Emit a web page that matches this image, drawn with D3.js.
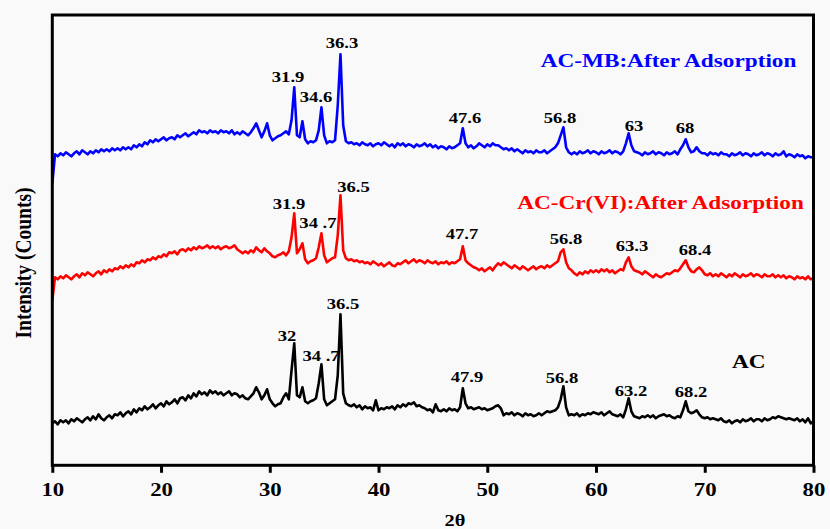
<!DOCTYPE html>
<html>
<head>
<meta charset="utf-8">
<script src="https://cdn.jsdelivr.net/npm/d3@7"></script>
<style>
  html, body { margin: 0; padding: 0; background: #f9f9f9; }
  svg { display: block; }
  text { font-family: "Liberation Serif", "Times New Roman", serif; font-weight: bold; }
</style>
</head>
<body>
<svg id="chart" width="830" height="529"></svg>
<script>
// ---------------- DATA ----------------
const xTicks = [10, 20, 30, 40, 50, 60, 70, 80];
// step-scan angles (2θ), 10° → 80° in 0.25° steps
const twoTheta = d3.range(281).map(i => 10 + i * 0.25);

// AC (black), counts, offset trace
const acCounts = [
42,44,41,45, 43,45,42,46, 44,47,45,43, 46,48,45,49, 46,51,47,45,
48,50,47,51, 50,53,49,52, 54,51,56,53, 57,55,59,56, 58,61,57,60,
62,59,64,61, 63,66,62,67, 68,65,70,67, 72,69,74,71, 73,70,75,72,
74,71,73,70, 72,74,70,72, 71,68,70,67, 66,69,72,78, 73,66,70,76,
66,62,59,61, 62,68,72,66, 95,122,70,68, 78,64,62,64, 65,67,82,101,
66,60,62,64, 66,90,151,72, 62,60,59,61, 58,60,56,59, 57,58,55,65,
55,57,56,58, 57,59,56,60, 58,61,59,62, 61,63,59,60, 58,57,55,56,
53,61,55,54, 56,54,57,55, 56,54,58,77, 62,57,58,56, 57,58,56,57,
55,56,57,59, 60,57,50,52, 51,53,50,52, 51,49,52,50, 51,49,50,52,
50,52,54,53, 54,55,58,66, 79,58,50,51, 50,52,49,51, 50,52,51,53,
52,51,53,50, 52,54,51,50, 49,51,48,56, 67,54,49,48, 47,49,48,50,
48,50,47,49, 50,51,49,50, 48,47,49,48, 55,64,54,52, 53,55,51,48,
47,48,46,47, 46,45,47,44, 43,45,42,44, 45,43,46,44, 45,47,44,46,
46,44,47,45, 46,48,47,49, 48,47,46,47, 46,45,47,44, 46,43,47,42,
44
];

// AC-Cr(VI) after adsorption (red)
const crCounts = [
165,188,186,189, 187,190,188,186, 189,191,188,192, 190,193,191,189, 192,194,191,195,
193,196,194,197, 196,199,197,200, 198,201,199,203, 202,205,203,206, 205,208,206,209,
208,211,209,213, 212,214,211,215, 216,214,217,215, 218,216,219,217, 218,220,217,219,
217,219,216,218, 219,217,218,220, 216,214,212,214, 212,215,213,218, 215,213,217,214,
212,209,208,210, 211,213,210,214, 228,252,212,216, 222,206,202,204, 205,207,218,232,
210,203,205,207, 208,230,270,215, 207,205,206,204, 205,203,204,202, 203,201,204,202,
200,202,199,201, 203,200,199,202, 201,203,205,202, 204,206,203,205, 204,202,205,203,
202,204,201,203, 202,204,201,203, 202,204,206,219, 205,202,200,198, 197,195,197,194,
196,198,195,199, 202,200,203,201, 199,197,200,198, 196,199,197,195, 197,199,196,198,
199,197,200,198, 200,202,204,213, 216,203,197,195, 192,190,193,191, 194,192,195,193,
195,193,196,194, 196,193,195,192, 194,196,195,203, 208,199,195,194, 193,191,194,192,
190,188,191,189, 188,190,192,191, 193,195,194,197, 201,205,198,194, 193,196,198,195,
191,190,192,189, 191,189,192,190, 188,191,189,192, 190,188,191,189, 190,192,189,191,
190,188,191,189, 189,191,188,190, 188,190,187,189, 188,186,189,187, 188,186,189,186,
187
];

// AC-MB after adsorption (blue)
const mbCounts = [
282,311,309,312, 310,313,311,309, 312,314,311,315, 313,311,314,312, 315,313,316,314,
316,314,317,315, 317,315,318,316, 318,316,320,318, 321,319,323,321, 325,323,326,324,
326,328,325,327, 328,326,330,328, 330,332,329,331, 333,331,335,333, 334,332,335,333,
334,332,335,333, 334,332,335,331, 333,331,334,332, 330,333,337,342, 335,328,334,342,
330,325,327,329, 330,332,334,331, 345,378,330,328, 344,326,322,324, 323,325,335,358,
330,322,324,323, 325,360,411,340, 324,322,323,321, 322,320,323,321, 320,322,319,321,
322,320,323,321, 319,321,318,322, 320,322,319,321, 320,318,321,319, 320,322,319,321,
318,320,317,319, 318,316,319,317, 318,320,322,337, 322,318,320,317, 319,322,320,318,
321,319,322,320, 320,318,316,317, 315,317,314,316, 314,312,315,313, 314,312,315,313,
313,315,312,314, 316,318,322,330, 338,318,313,311, 313,311,314,312, 313,315,312,314,
313,311,314,312, 313,315,312,314, 313,311,314,322, 332,320,314,313, 312,310,313,311,
312,314,311,313, 312,310,313,311, 312,314,311,316, 320,326,318,313, 314,318,314,312,
312,310,313,311, 312,310,313,311, 311,309,312,310, 311,313,310,312, 311,309,312,310,
311,313,310,312, 311,309,312,310, 311,314,309,311, 310,308,311,309, 310,307,309,308,
308
];

// peak annotations: label text, 2θ anchor, intensity anchor
const mbPeakText  = ["31.9", "34.6", "36.3", "47.6", "56.8", "63", "68"];
const mbPeakAt    = [31.68, 34.25, 36.64, 47.95, 56.69, 63.5, 68.19];
const mbPeakLevel = [383, 363, 417, 342, 342, 334, 332];

const crPeakText  = ["31.9", "34 .7", "36.5", "47.7", "56.8", "63.3", "68.4"];
const crPeakAt    = [31.77, 34.43, 37.7, 47.68, 57.24, 63.31, 69.11];
const crPeakLevel = [256, 237, 273, 226, 221, 214, 210];

const acPeakText  = ["32", "34 .7", "36.5", "47.9", "56.8", "63.2", "68.2"];
const acPeakAt    = [31.58, 34.71, 36.73, 48.14, 56.87, 63.22, 68.74];
const acPeakLevel = [124, 104, 156, 83, 82, 69, 68];

const seriesNames  = ["AC-MB:After Adsorption", "AC-Cr(VI):After Adsorption", "AC"];
const seriesColors = ["#0000ff", "#ff0000", "#000000"];
const nameAt       = [66.67, 65.93, 74.04];
const nameLevel    = [398, 256, 97];

// ---------------- DRAW ----------------
const svg = d3.select("#chart");
const X0 = 52.3, X1 = 813.5, Y0 = 465.3, Y1 = 15;
const x = d3.scaleLinear().domain([10, 80]).range([X0, X1]);
const y = d3.scaleLinear().domain([0, 450.3]).range([Y0, Y1]);
const STRETCH = 1.2;

const line = d3.line().x(d => x(d[0])).y(d => y(d[1]));
const series = [
  { counts: mbCounts, color: seriesColors[0], pt: mbPeakText, pa: mbPeakAt, pl: mbPeakLevel },
  { counts: crCounts, color: seriesColors[1], pt: crPeakText, pa: crPeakAt, pl: crPeakLevel },
  { counts: acCounts, color: seriesColors[2], pt: acPeakText, pa: acPeakAt, pl: acPeakLevel }
];

series.forEach(s => {
  svg.append("path")
    .datum(twoTheta.map((t, i) => [t, s.counts[i]]))
    .attr("d", line)
    .attr("fill", "none")
    .attr("stroke", s.color)
    .attr("stroke-width", 2.6)
    .attr("stroke-linejoin", "round");
});

// peak labels
series.forEach(s => {
  s.pt.forEach((t, i) => {
    svg.append("text")
      .attr("transform", `translate(${x(s.pa[i])},${y(s.pl[i])}) scale(${STRETCH},1)`)
      .attr("text-anchor", "middle")
      .attr("font-size", 15.5)
      .attr("fill", "#000")
      .text(t);
  });
});

// series names
seriesNames.forEach((n, i) => {
  svg.append("text")
    .attr("transform", `translate(${x(nameAt[i])},${y(nameLevel[i])}) scale(1.27,1)`)
    .attr("text-anchor", "middle")
    .attr("font-size", 18.3)
    .attr("fill", seriesColors[i])
    .text(n);
});

// x axis
const xAxis = svg.append("g")
  .attr("transform", `translate(0,${Y0})`)
  .call(d3.axisBottom(x).tickValues(xTicks).tickSize(7.5).tickFormat(d3.format("d")));
xAxis.select(".domain").remove();
xAxis.selectAll(".tick line").attr("stroke", "#000").attr("stroke-width", 3);
xAxis.selectAll(".tick text")
  .attr("y", 31).attr("dy", 0)
  .attr("font-size", 19)
  .attr("font-family", "Liberation Serif, Times New Roman, serif")
  .attr("font-weight", "bold")
  .attr("fill", "#000")
  .attr("transform", `scale(${STRETCH},1)`);

// frame
svg.append("rect")
  .attr("x", X0).attr("y", Y1)
  .attr("width", X1 - X0).attr("height", Y0 - Y1)
  .attr("fill", "none").attr("stroke", "#000").attr("stroke-width", 3);

// axis titles
svg.append("text")
  .attr("transform", `translate(455,526) scale(${STRETCH},1)`)
  .attr("text-anchor", "middle")
  .attr("font-size", 17)
  .text("2θ");

svg.append("text")
  .attr("transform", "translate(30.5,263) rotate(-90) scale(1,1.2)")
  .attr("text-anchor", "middle")
  .attr("font-size", 19.5)
  .text("Intensity (Counts)");
</script>
</body>
</html>
